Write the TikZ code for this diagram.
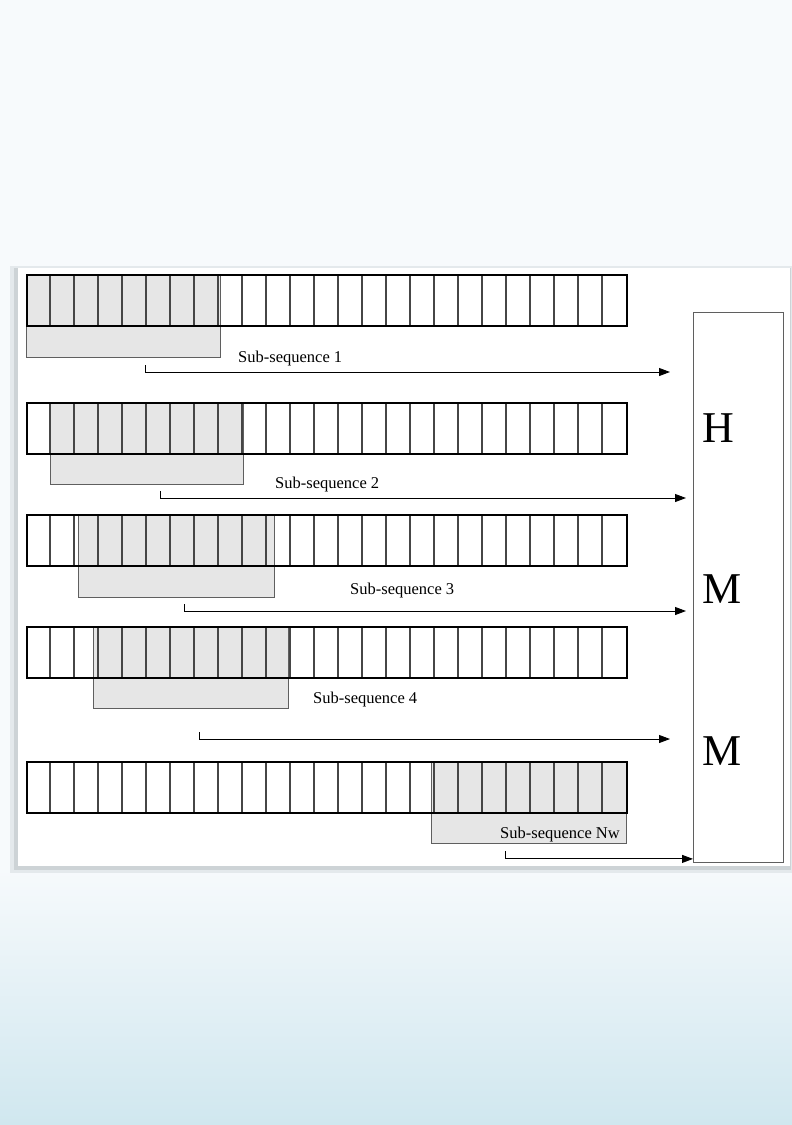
\documentclass[tikz,border=0pt]{standalone}
\usepackage{fontspec}
\setmainfont{Liberation Serif}
\usetikzlibrary{arrows.meta, positioning, calc}
\definecolor{winfill}{RGB}{230,230,230}
\definecolor{winedge}{RGB}{95,95,95}
\definecolor{celledge}{RGB}{70,70,70}
\definecolor{slidetop}{RGB}{247,250,252}
\definecolor{slidebot}{RGB}{208,231,239}
\definecolor{panelshadow}{RGB}{205,211,214}
\definecolor{panelhalo}{RGB}{228,233,236}
\tikzset{
  seqrow/.style    = {rectangle, draw=black, line width=2.4pt, minimum width=600pt, minimum height=51pt, inner sep=0pt, anchor=north west},
  cellline/.style  = {celledge, line width=1.1pt},
  win/.style       = {fill=winfill, draw=winedge, line width=0.8pt},
  sublabel/.style  = {font=\fontsize{16.5}{18}\selectfont, inner sep=0pt, anchor=base west},
  feed/.style      = {-{Triangle[length=11pt,width=8pt]}, line width=0.9pt},
  hmmbox/.style    = {rectangle, draw=winedge, line width=0.9pt, minimum width=90pt, minimum height=550pt, inner sep=0pt, anchor=north west},
  hmmletter/.style = {font=\fontsize{44}{48}\selectfont, inner sep=0pt, anchor=base west},
}

\begin{document}
\begin{tikzpicture}[x=1pt, y=-1pt]
\useasboundingbox (0,0) rectangle (792,1125);

% ===== slide background =====
\fill[slidetop] (0,0) rectangle (792,1125);
\shade[top color=slidetop, bottom color=slidebot] (0,866) rectangle (792,1125);
\fill[panelhalo] (10,266) rectangle (792,873);
\fill[panelshadow] (14,268) rectangle (791,870);
\fill[white] (18,268) rectangle (790,866);

% ===== HMM =====
\node[hmmbox] (hmm) at (693,312) {};
\node[hmmletter] (hmmH)  at (702,442) {H};
\node[hmmletter] (hmmM1) at (702,603) {M};
\node[hmmletter] (hmmM2) at (702,765) {M};

% ===== sub-sequence 1 =====
\draw[win] (26,274) rectangle (220,357);
\foreach \i in {1,...,24} \draw[cellline] (26+24*\i,274) -- (26+24*\i,325);
\node[seqrow] (row1) at (26,274) {};
\node[sublabel] (lab1) at (238,362) {Sub-sequence 1};
\coordinate (s1) at (145,365);
\coordinate (e1) at (670,372);
\draw[feed] (s1) |- (e1);

% ===== sub-sequence 2 =====
\draw[win] (50,402) rectangle (243,484);
\foreach \i in {1,...,24} \draw[cellline] (26+24*\i,402) -- (26+24*\i,453);
\node[seqrow] (row2) at (26,402) {};
\node[sublabel] (lab2) at (275,488) {Sub-sequence 2};
\coordinate (s2) at (160,491);
\coordinate (e2) at (686,498);
\draw[feed] (s2) |- (e2);

% ===== sub-sequence 3 =====
\draw[win] (78,514) rectangle (274,597);
\foreach \i in {1,...,24} \draw[cellline] (26+24*\i,514) -- (26+24*\i,565);
\node[seqrow] (row3) at (26,514) {};
\node[sublabel] (lab3) at (350,594) {Sub-sequence 3};
\coordinate (s3) at (184,604);
\coordinate (e3) at (686,611);
\draw[feed] (s3) |- (e3);

% ===== sub-sequence 4 =====
\draw[win] (93,626) rectangle (288,708);
\foreach \i in {1,...,24} \draw[cellline] (26+24*\i,626) -- (26+24*\i,677);
\node[seqrow] (row4) at (26,626) {};
\node[sublabel] (lab4) at (313,703) {Sub-sequence 4};
\coordinate (s4) at (199,732);
\coordinate (e4) at (670,739);
\draw[feed] (s4) |- (e4);

% ===== sub-sequence Nw =====
\draw[win] (431,761) rectangle (626,843);
\foreach \i in {1,...,24} \draw[cellline] (26+24*\i,761) -- (26+24*\i,812);
\node[seqrow] (row5) at (26,761) {};
\node[sublabel] (lab5) at (500,838) {Sub-sequence Nw};
\coordinate (s5) at (505,851);
\draw[feed] (s5) |- ([yshift=4pt]hmm.south west);

\end{tikzpicture}
\end{document}
